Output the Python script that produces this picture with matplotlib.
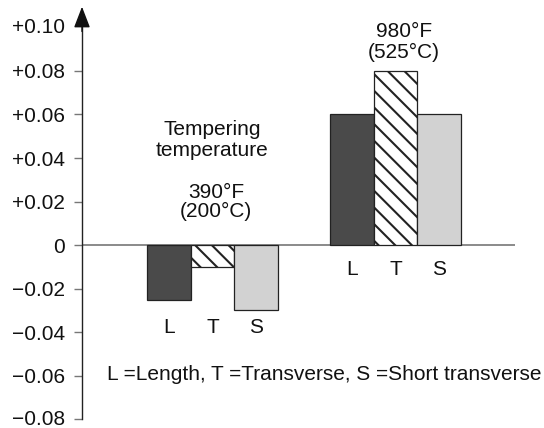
import matplotlib

matplotlib.use("Agg")
import matplotlib.pyplot as plt  # noqa: E402
import matplotlib.transforms as mtransforms  # noqa: E402

plt.rcParams["font.family"] = ["Liberation Sans", "DejaVu Sans"]
plt.rcParams["hatch.linewidth"] = 1.5
plt.rcParams["hatch.color"] = "#7a7a7a"

# Dimensional change per tempering temperature
directions = ["L", "T", "S"]
low_temp = [-0.025, -0.010, -0.030]   # 390°F (200°C)
high_temp = [0.060, 0.080, 0.060]     # 980°F (525°C)
group_labels = ["390°F\n(200°C)", "980°F\n(525°C)"]
yticks = [-0.08, -0.06, -0.04, -0.02, 0, 0.02, 0.04, 0.06, 0.08, 0.10]
ytick_labels = ["\u22120.08", "\u22120.06", "\u22120.04", "\u22120.02", "0",
                "+0.02", "+0.04", "+0.06", "+0.08", "+0.10"]

bar_colors = ["#4a4a4a", "white", "#d2d2d2"]
bar_hatches = [None, "\\\\", None]
FS = 15

fig = plt.figure(figsize=(5.44, 4.28), dpi=100)
# axes spans y from -0.08 (px 419) up to ~0.11 (px 7)
ax = fig.add_axes([82 / 544, (428 - 419.3) / 428, (515 - 82) / 544, (419.3 - 6.7) / 428])

group_centers = [0.0, 4.2]
offsets = [-1, 0, 1]
for gc, vals in zip(group_centers, [low_temp, high_temp]):
    for off, v, c, h in zip(offsets, vals, bar_colors, bar_hatches):
        ax.bar(gc + off, v, width=1.0, color=c, hatch=h,
               edgecolor="#222222", linewidth=0.9, zorder=2)

ax.set_xlim(-2.99, 6.94)
ax.set_ylim(-0.08, 0.1095)

# zero line
ax.axhline(0, color="#777777", linewidth=1.2, zorder=1)

for s in ["top", "right", "bottom"]:
    ax.spines[s].set_visible(False)
ax.spines["left"].set_color("#222222")
ax.spines["left"].set_linewidth(1.0)
ax.spines["left"].set_bounds(-0.08, 0.102)
ax.annotate("", xy=(0, 1.0), xytext=(0, 0.94), xycoords="axes fraction",
            arrowprops=dict(arrowstyle="-|>,head_length=1.3,head_width=0.5",
                            color="#111111", lw=1.0, shrinkA=0, shrinkB=0))

ax.set_xticks([])
ax.set_yticks(yticks[:-1])
ax.set_yticklabels(ytick_labels[:-1], fontsize=FS, color="#111111")
ax.tick_params(axis="y", direction="out", length=6, width=1.0,
               color="#777777", pad=6.5)
# keep the bottom label inside the canvas
bottom_label = ax.get_yticklabels()[0]
bottom_label.set_transform(bottom_label.get_transform()
                           + mtransforms.ScaledTranslation(0, 2 / 100, fig.dpi_scale_trans))
# +0.10 label without tick
ax.annotate(ytick_labels[-1], xy=(0, 0.10), xycoords=ax.get_yaxis_transform(),
            xytext=(-17, 0), textcoords="offset pixels",
            ha="right", va="center", fontsize=FS, color="#111111")

# direction letters under bars
for gc, y in zip(group_centers, [-0.038, -0.011]):
    for off, d in zip(offsets, directions):
        ax.text(gc + off, y, d, ha="center", va="center", fontsize=FS, color="#111111")

ax.text(group_centers[0], 0.0483, "Tempering\ntemperature", ha="center", va="center",
        fontsize=FS, linespacing=1.1, color="#111111")
ax.text(group_centers[0] + 0.09, 0.0196, group_labels[0], ha="center", va="center",
        fontsize=FS, linespacing=1.0, color="#111111")
ax.text(group_centers[1] + 0.2, 0.0932, group_labels[1], ha="center", va="center",
        fontsize=FS, linespacing=1.15, color="#111111")

ax.text(-2.42, -0.0595, "L =Length, T =Transverse, S =Short transverse",
        ha="left", va="center", fontsize=FS, color="#111111")

fig.savefig("out.png", dpi=100)
